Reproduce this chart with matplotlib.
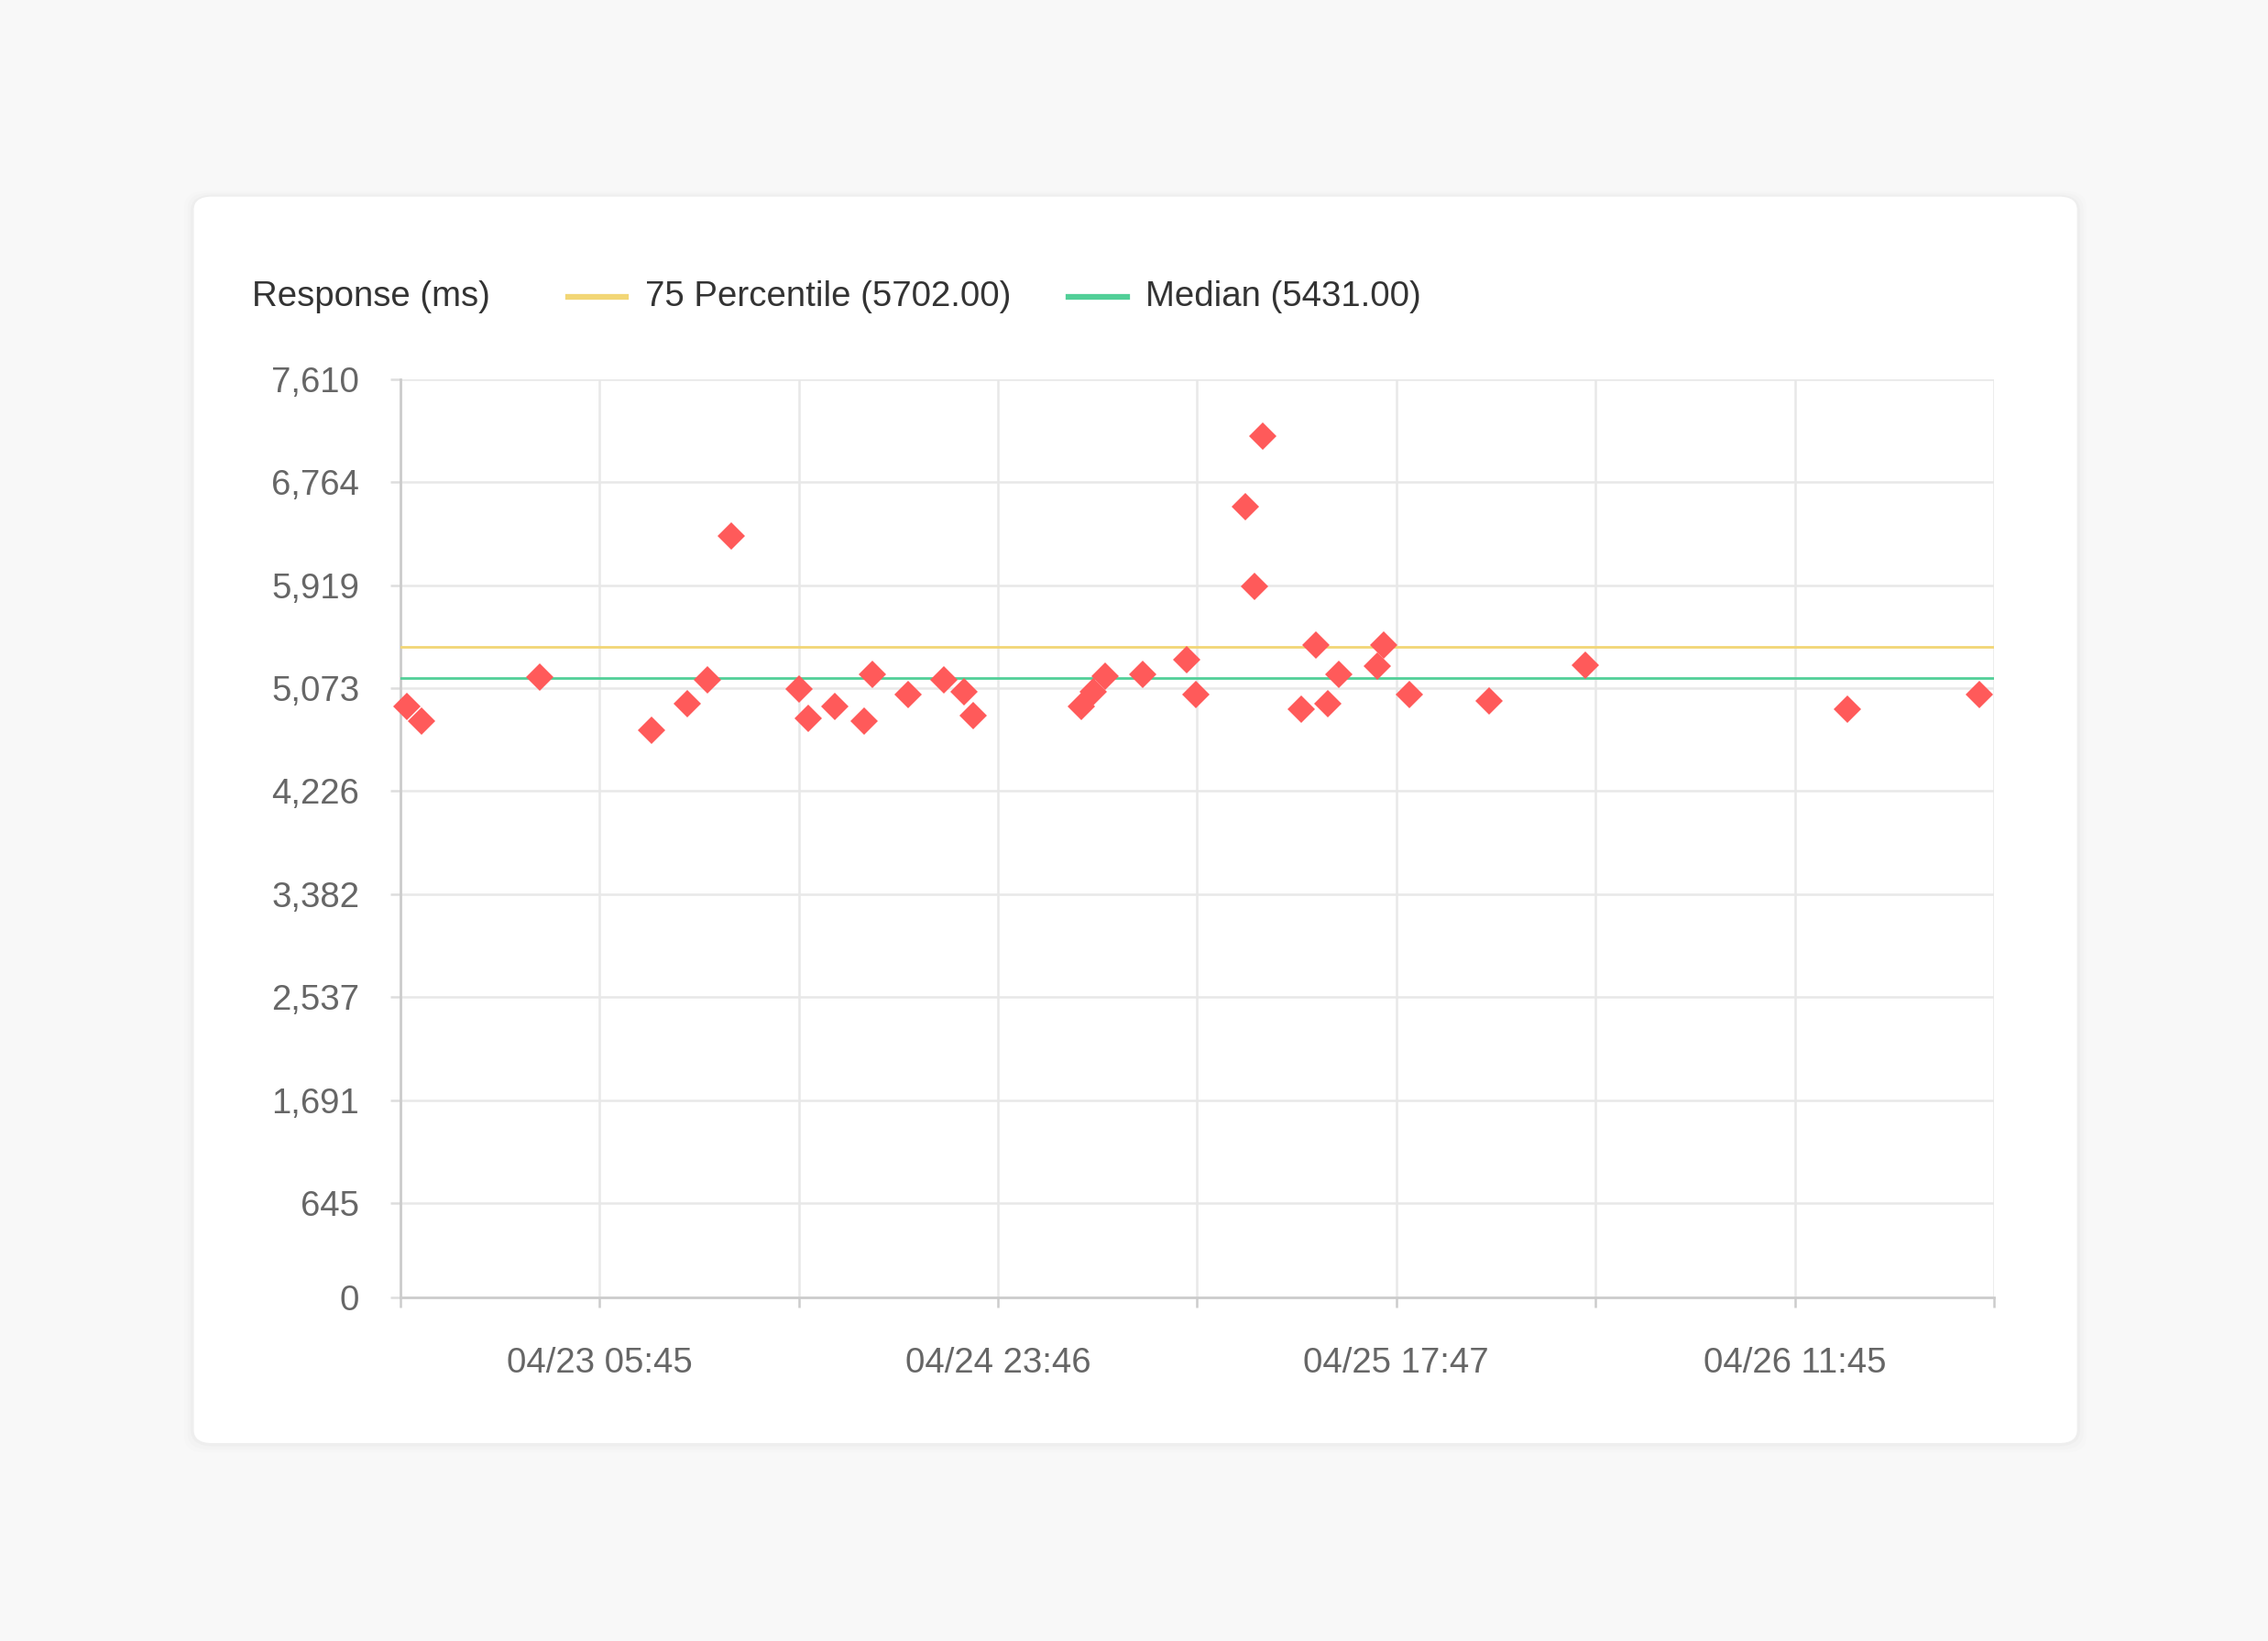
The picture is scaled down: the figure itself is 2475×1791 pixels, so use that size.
import matplotlib.pyplot as plt
from matplotlib.patches import FancyBboxPatch
from matplotlib.lines import Line2D

# hours from the start of the x axis, response time in ms
hours = [0.31, 0.98, 6.32, 11.37, 12.96, 13.89, 14.96, 18.02, 18.43, 19.62,
         20.95, 21.35, 22.95, 24.54, 25.47, 25.89, 30.79, 31.31, 31.85, 33.55,
         35.55, 35.94, 38.19, 38.59, 38.98, 40.71, 41.36, 41.90, 42.42, 44.15,
         44.42, 45.61, 49.19, 53.55, 65.36, 71.32]
response = [4898, 4776, 5141, 4702, 4920, 5115, 6307, 5042, 4799, 4898,
            4773, 5164, 4994, 5115, 5016, 4824, 4895, 5019, 5146, 5164,
            5286, 4994, 6551, 5894, 7134, 4872, 5407, 4920, 5164, 5235,
            5407, 4994, 4946, 5240, 4872, 4994]

p75_level = 5394
median_level = 5130
p75_label = '75 Percentile (5702.00)'
median_label = 'Median (5431.00)'

ytick_pos = [0, 781, 1635, 2489, 3342, 4196, 5050, 5903, 6757, 7610]
ytick_labels = ['0', '645', '1,691', '2,537', '3,382', '4,226', '5,073', '5,919', '6,764', '7,610']
xtick_pos = [0, 9, 18, 27, 36, 45, 54, 63, 72]
xtick_labels = ['', '04/23 05:45', '', '04/24 23:46', '', '04/25 17:47', '', '04/26 11:45', '']

RED = '#ff5a5a'
YELLOW = '#f2d676'
GREEN = '#52cf98'
FONT = 'Liberation Sans'
FS = 27.6

plt.rcParams['font.family'] = [FONT, 'DejaVu Sans']

fig = plt.figure(figsize=(24.75, 17.91), dpi=100)
fig.patch.set_facecolor('#f8f8f8')

# card with a faint shadow
W, H = 2475.0, 1791.0
cx0, cy0, cx1, cy1 = 211.5 / W, 1 - 1575 / H, 2266.6 / W, 1 - 214.6 / H
for grow, alpha in [(0.006, 0.008), (0.004, 0.012), (0.002, 0.018)]:
    fig.patches.append(FancyBboxPatch((cx0 - grow * 0.7, cy0 - grow), cx1 - cx0 + grow * 1.4, cy1 - cy0 + grow * 1.6,
                                      boxstyle='round,pad=0,rounding_size=0.01', transform=fig.transFigure,
                                      facecolor='#000000', edgecolor='none', alpha=alpha, zorder=0))
fig.patches.append(FancyBboxPatch((cx0, cy0), cx1 - cx0, cy1 - cy0,
                                  boxstyle='round,pad=0,rounding_size=0.008', transform=fig.transFigure,
                                  facecolor='white', edgecolor='none', zorder=1))

left, right = 436.7 / W, 2176 / W
bottom, top = 1 - 1416 / H, 1 - 413.8 / H
ax = fig.add_axes([left, bottom, right - left, top - bottom])
ax.set_zorder(2)
ax.patch.set_alpha(0)

ax.axhline(p75_level, color=YELLOW, lw=2.0, zorder=3)
ax.axhline(median_level, color=GREEN, lw=2.0, zorder=3)
ax.plot(hours, response, linestyle='none', marker='D', markersize=15,
        color=RED, markeredgewidth=0, zorder=4, clip_on=False)

ax.set_xlim(0, 72)
ax.set_ylim(0, 7610)
ax.set_yticks(ytick_pos)
ax.set_yticklabels(ytick_labels)
ax.set_xticks(xtick_pos)
ax.set_xticklabels(xtick_labels)

ax.grid(True, color='#e8e8e8', lw=1.8, zorder=1)
ax.set_axisbelow(True)
for s in ['top', 'right']:
    ax.spines[s].set_visible(False)
for s in ['left', 'bottom']:
    ax.spines[s].set_color('#cccccc')
    ax.spines[s].set_linewidth(2)
    ax.spines[s].set_zorder(2)

ax.tick_params(axis='y', length=8, width=1.8, color='#dddddd', pad=24,
               labelsize=FS, labelcolor='#666666')
ax.tick_params(axis='x', length=8, width=1.8, color='#cccccc', pad=31,
               labelsize=FS, labelcolor='#666666')

# legend row at the top of the card
ly = 1 - 323.6 / H
fig.text(274.6 / W, ly, 'Response (ms)', fontsize=FS, color='#333333', va='center', ha='left', zorder=5)
fig.lines.append(Line2D([620 / W, 683 / W], [ly, ly], transform=fig.transFigure, color=YELLOW, lw=4.5, zorder=5))
fig.text(704 / W, ly, p75_label, fontsize=FS, color='#333333', va='center', ha='left', zorder=5)
fig.lines.append(Line2D([1166 / W, 1230 / W], [ly, ly], transform=fig.transFigure, color=GREEN, lw=4.5, zorder=5))
fig.text(1250 / W, ly, median_label, fontsize=FS, color='#333333', va='center', ha='left', zorder=5)

fig.savefig('out.png', dpi=100, facecolor=fig.get_facecolor())
